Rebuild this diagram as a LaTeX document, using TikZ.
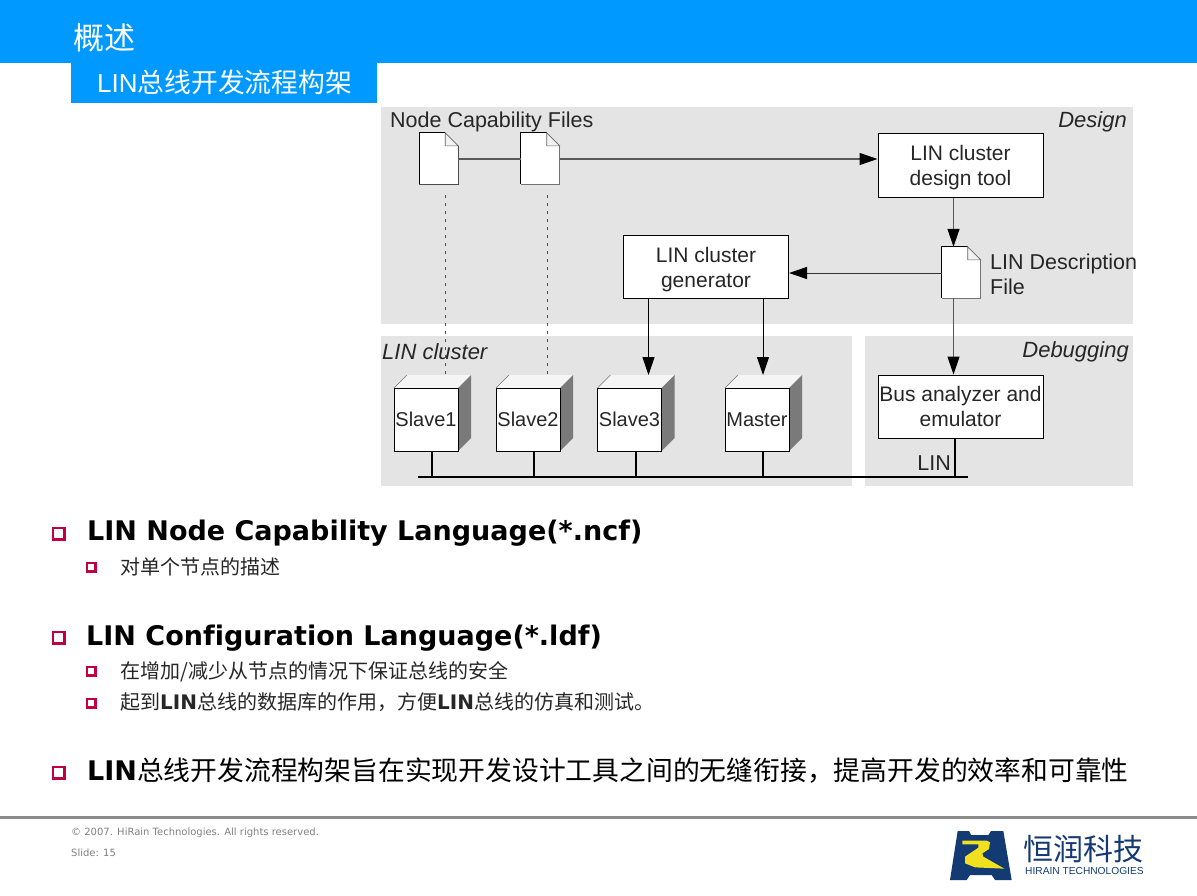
\documentclass[tikz,border=0pt]{standalone}
\usepackage{fontspec}
\setmainfont{Liberation Sans}
\newfontfamily\cjk{Noto Sans CJK SC}
\newfontfamily\vb[Ligatures=NoCommon]{DejaVu Sans}
\usetikzlibrary{arrows.meta}
\definecolor{topblue}{HTML}{0099FF}
\definecolor{panel}{HTML}{E4E4E4}
\definecolor{crim}{HTML}{C00040}
\definecolor{navy}{HTML}{133A73}
\definecolor{logoy}{HTML}{F0E020}
\definecolor{foot}{HTML}{808080}
\newcommand{\fs}[1]{\fontsize{#1}{#1}\selectfont}
\newcommand{\cubeshape}[2]{% name, front-left x
  \fill[white!96!black] (#2,388) -- (#2+13,375) -- (#2+77,375) -- (#2+64,388) -- cycle;
  \draw[black!55,line width=.5pt] (#2,388) -- (#2+13,375);
  \fill[black!52] (#2+64,388) -- (#2+77,375) -- (#2+77,438) -- (#2+64,451) -- cycle;
  \node[cubeface] (#1) at (#2+32,419.5) {\raisebox{-2pt}{#1}};
}
\tikzset{
  x=1pt,y=-1pt,
  lbl/.style={inner sep=0,anchor=west,text=black},
  paneltxt/.style={inner sep=0,font=\fs{22}\itshape,text=black!85},
  diagtxt/.style={inner sep=0,font=\fs{21.5},text=black!85,align=center},
  pbox/.style={draw=black,fill=white,line width=1pt,inner sep=0,minimum width=165pt,font=\fs{21},text=black!85,align=center,text depth=0pt},
  cubeface/.style={draw=black,fill=white,line width=1pt,inner sep=0,minimum width=64pt,minimum height=63pt,font=\fs{20},text=black!85},
  docshape/.style={inner sep=0,minimum width=38.5pt,minimum height=51pt},
  flow/.style={draw=black!65,line width=1.2pt,-{Triangle[length=18pt,width=12pt,black]}},
  plainflow/.style={draw=black!65,line width=1.2pt},
  dflow/.style={draw=black,line width=1pt,-{Triangle[length=18pt,width=12pt,black]}},
  dotline/.style={draw=black!70,line width=.9pt,dash pattern=on 3pt off 5pt},
  bus/.style={draw=black,line width=2pt},
  big/.style={lbl,font=\vb\bfseries\fs{27}},
  sub/.style={lbl,font=\cjk\fs{20},text=black!85},
}
\newcommand{\docfold}[2]{% node, colour of right and bottom edges
  \fill[white] (#1.north west) -- ([xshift=-13pt]#1.north east) -- ([yshift=-13pt]#1.north east) -- (#1.south east) -- (#1.south west) -- cycle;
  \draw[black,line width=1pt,line join=miter] (#1.south west) -- (#1.north west) -- ([xshift=-13pt]#1.north east);
  \draw[#2,line width=1pt] ([yshift=-13pt]#1.north east) -- (#1.south east) -- (#1.south west);
  \fill[white!95!black] ([xshift=-13pt]#1.north east) -- ([yshift=-13pt]#1.north east) -- ([xshift=-13pt,yshift=-13pt]#1.north east) -- cycle;
  \draw[black!60,line width=.6pt] ([xshift=-13pt]#1.north east) -- ([xshift=-13pt,yshift=-13pt]#1.north east) -- ([yshift=-13pt]#1.north east) -- cycle;
}
\newcommand{\bull}[3]{% x,y,size
  \fill[crim] (#1,#2) rectangle ++(#3,#3);
  \fill[white] (#1+1.5,#2+1.5) rectangle ++(#3-4.5,#3-4.5);
}
\begin{document}
\begin{tikzpicture}
\useasboundingbox (0,0) rectangle (1197,895);
% header
\fill[topblue] (0,0) rectangle (1197,63);
\fill[topblue] (71,63) rectangle (377,103);
\node[lbl,text=white,font=\cjk\fs{31}] (ttl) at (73,38) {概述};
\node[lbl,text=white,font=\cjk\fs{26.8}] (subttl) at (97,82) {{\rmfamily\fs{26}LIN}总线开发流程构架};
% panels
\fill[panel] (381,107) rectangle (1133,324);
\fill[panel] (381,336) rectangle (852,486);
\fill[panel] (865,336) rectangle (1133,486);
\node[paneltxt,anchor=east] (pd) at (1127,122) {Design};
\node[paneltxt,anchor=west] (pl) at (382,352) {LIN cluster};
\node[paneltxt,anchor=east] (pg) at (1129,352) {Debugging};
\node[diagtxt,anchor=west] (ncf) at (390,122) {Node Capability Files};
% dashed guide lines sit under everything
\coordinate (c1t) at (445,375);
\coordinate (c2t) at (547.5,375);
\coordinate (d1b) at (445,195);
\coordinate (d2b) at (547.5,195);
\draw[dotline] (d1b) -- (c1t);
\draw[dotline] (d2b) -- (c2t);
% documents
\node[docshape] (doc1) at (438.75,158.5) {};
\node[docshape] (doc2) at (540.25,158.5) {};
\node[docshape] (doc3) at (961.25,272.5) {};
\docfold{doc1}{black!70}\docfold{doc2}{black!55}\docfold{doc3}{black!55}
\node[diagtxt,anchor=north west,align=left] (ldf) at (990,254) {LIN Description\\[3pt]File};
% boxes
\node[pbox,minimum height=64pt] (tool) at (960.5,165) {LIN cluster\\[4pt]design tool};
\node[pbox,minimum height=63.5pt] (gen) at (706,267) {LIN cluster\\[4pt]generator};
\node[pbox,minimum height=63pt] (ana) at (960.5,406.5) {Bus analyzer and\\[4pt]emulator};
% cubes
\cubeshape{Slave1}{394}
\cubeshape{Slave2}{496}
\cubeshape{Slave3}{597.5}
\cubeshape{Master}{725}
% connectors
\draw[plainflow] (doc1.east |- 0,159) -- (doc2.west |- 0,159);
\draw[flow] (doc2.east |- 0,159) -- (tool.west |- 0,159);
\draw[flow] (tool.south -| 953.5,0) -- (doc3.north -| 953.5,0);
\draw[dflow,draw=black!80] (doc3.west |- 0,273) -- (gen.east |- 0,273);
\draw[flow] (doc3.south -| 953.5,0) -- (ana.north -| 953.5,0);
\coordinate (s3t) at (648.5,375);
\coordinate (mt) at (763,375);
\draw[dflow] (gen.south -| s3t) -- (s3t);
\draw[dflow] (gen.south -| mt) -- (mt);
% bus
\coordinate (busl) at (418,477);
\coordinate (busr) at (968,477);
\draw[bus] (busl) -- (busr);
\draw[bus] (Slave1.south -| 432,0) -- (432,477);
\draw[bus] (Slave2.south -| 534,0) -- (534,477);
\draw[bus] (Slave3.south -| 636,0) -- (636,477);
\draw[bus] (Master.south -| 763,0) -- (763,477);
\draw[bus] (ana.south -| 954.5,0) -- (954.5,477);
\node[diagtxt,anchor=east] (lin) at (951,463) {LIN};
% bullets and text
\bull{52}{527}{14}
\node[big] (t1) at (87,533) {LIN Node Capability Language(*.ncf)};
\bull{86}{562}{11}
\node[sub] (t2) at (120,567) {对单个节点的描述};
\bull{52}{631}{14}
\node[big] (t3) at (86,638) {LIN Configuration Language(*.ldf)};
\bull{86}{666}{11}
\node[sub] (t4) at (120,671.5) {在增加/减少从节点的情况下保证总线的安全};
\bull{86}{698}{11}
\node[sub] (t5) at (120,702.5) {起到{\vb\bfseries LIN}总线的数据库的作用，方便{\vb\bfseries LIN}总线的仿真和测试。};
\bull{52}{766}{14}
\node[lbl,font=\cjk\fs{26.8}] (t6) at (87,771) {{\vb\bfseries\fs{27}LIN}总线开发流程构架旨在实现开发设计工具之间的无缝衔接，提高开发的效率和可靠性};
% footer
\fill[black!45] (0,816) rectangle (1197,819);
\node[lbl,font=\vb\fs{10},text=foot] (f1) at (71,833) {© 2007. HiRain Technologies. All rights reserved.};
\node[lbl,font=\vb\fs{10},text=foot] (f2) at (71,853) {Slide: 15};
% logo
\begin{scope}[shift={(945,825)},x=.3333pt,y=-.3333pt]
\fill[navy] (38,18) -- (72,18) -- (78,30) -- (130,30) -- (138,18) -- (175,18) -- (200,165) -- (150,165) -- (140,150) -- (75,150) -- (65,165) -- (15,165) -- cycle;
\fill[logoy] (52,47) -- (125,47) -- (135,52) -- (132,72) -- (112,85) -- (115,95) -- (178,131) -- (90,127) -- (60,115) -- (60,95) -- (100,68) -- (100,58) -- (52,58) -- cycle;
\end{scope}
\node[lbl,font=\cjk\fs{30},text=navy] (lg1) at (1023,849) {恒润科技};
\node[lbl,font=\fs{10.2},text=navy] (lg2) at (1025,871) {HIRAIN TECHNOLOGIES};
\end{tikzpicture}
\end{document}
